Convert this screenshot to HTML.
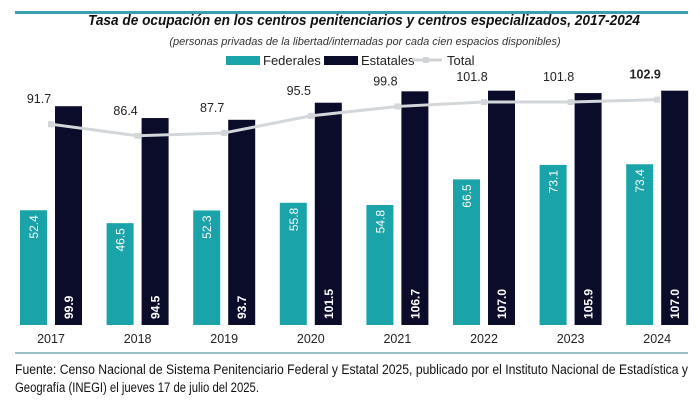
<!DOCTYPE html>
<html><head><meta charset="utf-8"><style>
body{margin:0;background:#fff;width:700px;height:402px;overflow:hidden;font-family:"Liberation Sans",sans-serif}
</style></head><body>
<svg id="c" width="700" height="402" style="position:absolute;left:0;top:0">
<rect x="15" y="11" width="673" height="3" fill="#3a9fb0"/>
<text x="88" y="25" textLength="552" lengthAdjust="spacingAndGlyphs" font-size="14.5" font-weight="bold" font-style="italic" fill="#111">Tasa de ocupación en los centros penitenciarios y centros especializados, 2017-2024</text>
<text x="365" y="45" text-anchor="middle" font-size="11" font-style="italic" fill="#333">(personas privadas de la libertad/internadas por cada cien espacios disponibles)</text>
<g>
<rect x="226" y="56" width="34" height="9" fill="#1aa3a8"/>
<text x="263" y="65" font-size="13" fill="#222">Federales</text>
<rect x="324" y="56" width="34" height="9" fill="#0a0c2a"/>
<text x="361" y="65" font-size="13" fill="#222">Estatales</text>
<line x1="412" y1="60" x2="442" y2="60" stroke="#cfd3d6" stroke-width="3"/>
<rect x="423" y="57" width="6" height="6" fill="#cfd3d6"/>
<text x="447" y="65" font-size="13" fill="#222">Total</text>
</g>
<g id="plot"></g>
<line x1="15" y1="353" x2="688" y2="353" stroke="#3a7f8f" stroke-width="1"/>
<g>
<text x="15" y="374" textLength="673" lengthAdjust="spacingAndGlyphs" font-size="13.5" fill="#111">Fuente: Censo Nacional de Sistema Penitenciario Federal y Estatal 2025, publicado por el Instituto Nacional de Estadística y</text>
<text x="15" y="392" textLength="244" lengthAdjust="spacingAndGlyphs" font-size="13.5" fill="#111">Geografía (INEGI) el jueves 17 de julio del 2025.</text>
</g>
</svg>
<script>
const years=["2017","2018","2019","2020","2021","2022","2023","2024"];
const federales=[52.4,46.5,52.3,55.8,54.8,66.5,73.1,73.4];
const estatales=[99.9,94.5,93.7,101.5,106.7,107.0,105.9,107.0];
const total=[91.7,86.4,87.7,95.5,99.8,101.8,101.8,102.9];
const NS="http://www.w3.org/2000/svg";
const g=document.getElementById('plot');
const base=325,k=2.19;
const xc=i=>51+i*86.6;
const y=v=>base-v*k;
function el(t,a){const e=document.createElementNS(NS,t);for(const n in a)e.setAttribute(n,a[n]);g.appendChild(e);return e;}
years.forEach((yr,i)=>{
 const c=xc(i);
 let b=el('rect',{x:c-31,y:y(federales[i]),width:27,height:federales[i]*k,fill:'#1aa3a8'});
 
 
 b=el('rect',{x:c+4,y:y(estatales[i]),width:27,height:estatales[i]*k,fill:'#0a0c2a'});
 
 
 let t=el('text',{transform:`translate(${c-13},${y(federales[i])+5}) rotate(-90)`,'text-anchor':'end',fill:'#fff','font-size':'12'});
 t.textContent=federales[i].toFixed(1);
 
 
 t=el('text',{transform:`translate(${c+22},${base-6}) rotate(-90)`,'text-anchor':'start',fill:'#fff','font-size':'12','font-weight':'bold'});
 t.textContent=estatales[i].toFixed(1);
 
 
 t=el('text',{x:c,y:343,'text-anchor':'middle','font-size':'12.5',fill:'#222'});
 t.textContent=yr;
 
 
});
const pts=total.map((v,i)=>xc(i)+','+y(v)).join(' ');
const pl=el('polyline',{points:pts,fill:'none',stroke:'#d3d7da','stroke-width':'3'});


total.forEach((v,i)=>{
 const m=el('rect',{x:xc(i)-3,y:y(v)-3,width:6,height:6,fill:'#d3d7da'});
 
 
 const t=el('text',{x:xc(i)-12,y:y(v)-21,'text-anchor':'middle','font-size':'12.5',fill:'#222','font-weight':i==total.length-1?'bold':'normal'});
 t.textContent=v.toFixed(1);
 
 
});
</script>
</body></html>
